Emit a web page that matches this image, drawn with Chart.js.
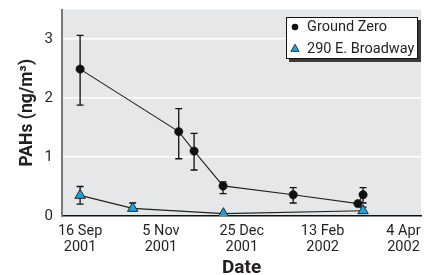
<!DOCTYPE html>
<html lang="en">
<head>
  <meta charset="UTF-8" />
  <title>PAHs at Ground Zero</title>
  <script src="https://cdn.jsdelivr.net/npm/chart.js"></script>
  <style>
    html, body {
      margin: 0;
      padding: 0;
      background: #ffffff;
      overflow: hidden;
    }
    #wrap {
      position: relative;
      width: 428px;
      height: 275px;
    }
  </style>
</head>
<body>
  <div id="wrap">
    <canvas id="pahChart" width="428" height="275"></canvas>
  </div>

  <script>
    // days counted from 16 Sep 2001
    const xTickDays = [0, 50, 100, 150, 200];
    const xTickLabels = [['16 Sep', '2001'], ['5 Nov', '2001'], ['25 Dec', '2001'], ['13 Feb', '2002'], ['4 Apr', '2002']];
    const yTicks = [0, 1, 2, 3];

    const gzDays = [0, 61, 70.5, 88.4, 131.8, 171.8, 175];
    const gzValues = [2.49, 1.43, 1.10, 0.51, 0.36, 0.21, 0.36];
    const gzLow = [1.88, 0.97, 0.78, 0.38, 0.22, null, 0.22];
    const gzHigh = [3.06, 1.82, 1.40, 0.58, 0.48, null, 0.48];

    const bwDays = [0, 32.5, 88.6, 175];
    const bwValues = [0.35, 0.13, 0.04, 0.09];
    const bwLow = [0.20, 0.09, null, 0.05];
    const bwHigh = [0.50, 0.22, null, 0.15];

    const FONT = 'Roboto, "Liberation Sans", Arial, sans-serif';

    function toPoints(days, vals, low, high) {
      return days.map((d, i) => ({ x: d, y: vals[i], lo: low[i], hi: high[i] }));
    }

    const plotBg = {
      id: 'plotBg',
      beforeDraw(chart) {
        const { ctx, chartArea: a } = chart;
        ctx.save();
        ctx.fillStyle = '#e6e7e8';
        ctx.fillRect(a.left, a.top, a.right - a.left, a.bottom - a.top);
        ctx.restore();
      }
    };

    const errorBars = {
      id: 'errorBars',
      beforeDatasetsDraw(chart) {
        const { ctx } = chart;
        const xs = chart.scales.x, ys = chart.scales.y;
        ctx.save();
        ctx.strokeStyle = '#111';
        ctx.lineWidth = 1.3;
        chart.data.datasets.forEach(ds => {
          ds.data.forEach(p => {
            if (p.lo == null) return;
            const x = xs.getPixelForValue(p.x);
            const y1 = ys.getPixelForValue(p.lo);
            const y2 = ys.getPixelForValue(p.hi);
            ctx.beginPath();
            ctx.moveTo(x, y1); ctx.lineTo(x, y2);
            ctx.moveTo(x - 3.5, y1); ctx.lineTo(x + 3.5, y1);
            ctx.moveTo(x - 3.5, y2); ctx.lineTo(x + 3.5, y2);
            ctx.stroke();
          });
        });
        ctx.restore();
      }
    };

    const boxLegend = {
      id: 'boxLegend',
      afterDraw(chart) {
        const { ctx } = chart;
        const bx = 286, by = 17, bw = 132, bh = 42;
        ctx.save();
        ctx.fillStyle = '#3a3a3a';
        ctx.fillRect(bx + 3, by + 3, bw, bh);
        ctx.fillStyle = '#fff';
        ctx.fillRect(bx, by, bw, bh);
        ctx.strokeStyle = '#111';
        ctx.lineWidth = 1;
        ctx.strokeRect(bx + 0.5, by + 0.5, bw - 1, bh - 1);
        ctx.font = '14.5px ' + FONT;
        ctx.textBaseline = 'middle';
        chart.data.datasets.forEach((ds, i) => {
          const cy = by + 10 + i * 22;
          const mx = bx + 9;
          ctx.beginPath();
          if (ds.pointStyle === 'triangle') {
            const r = 4.8;
            ctx.moveTo(mx, cy - r);
            ctx.lineTo(mx + r * 0.866, cy + r / 2);
            ctx.lineTo(mx - r * 0.866, cy + r / 2);
            ctx.closePath();
            ctx.fillStyle = ds.pointBackgroundColor;
            ctx.fill();
            ctx.strokeStyle = ds.pointBorderColor;
            ctx.lineWidth = 0.8;
            ctx.stroke();
          } else {
            ctx.arc(mx, cy, 3.3, 0, Math.PI * 2);
            ctx.fillStyle = ds.pointBackgroundColor;
            ctx.fill();
          }
          ctx.fillStyle = '#231f20';
          ctx.fillText(ds.label, bx + 21, cy);
        });
        ctx.restore();
      }
    };

    new Chart(document.getElementById('pahChart'), {
      type: 'scatter',
      data: {
        datasets: [
          {
            label: 'Ground Zero',
            data: toPoints(gzDays, gzValues, gzLow, gzHigh),
            showLine: true,
            borderColor: '#222',
            borderWidth: 1.1,
            pointStyle: 'circle',
            pointRadius: 4.2,
            pointBackgroundColor: '#111',
            pointBorderColor: '#111',
            pointBorderWidth: 0.5
          },
          {
            label: '290 E. Broadway',
            data: toPoints(bwDays, bwValues, bwLow, bwHigh),
            showLine: true,
            borderColor: '#222',
            borderWidth: 1.1,
            pointStyle: 'triangle',
            pointRadius: 6,
            pointBackgroundColor: '#1ba2e0',
            pointBorderColor: '#1a1a1a',
            pointBorderWidth: 0.9
          }
        ]
      },
      options: {
        responsive: false,
        animation: false,
        layout: { padding: { top: 9.5, left: 0, right: 0, bottom: 0 } },
        plugins: {
          legend: { display: false },
          tooltip: { enabled: false }
        },
        scales: {
          x: {
            type: 'linear',
            min: -11.2,
            max: 210.9,
            afterBuildTicks(scale) {
              scale.ticks = xTickDays.map(v => ({ value: v }));
            },
            afterFit(scale) {
              scale.height = 59;
              scale.paddingLeft = 0;
              scale.paddingRight = 0;
            },
            grid: { display: false, drawTicks: false },
            border: { display: true, color: '#111', width: 1.5 },
            ticks: {
              padding: 7,
              maxRotation: 0,
              autoSkip: false,
              color: '#231f20',
              font: { family: FONT, size: 14.5, lineHeight: 1.1 },
              callback: (v) => xTickLabels[xTickDays.indexOf(v)]
            },
            title: {
              display: true,
              text: 'Date',
              color: '#231f20',
              padding: 0,
              font: { family: FONT, size: 19, weight: 'bold', lineHeight: 0.75 }
            }
          },
          y: {
            min: 0,
            max: 3.5,
            afterBuildTicks(scale) {
              scale.ticks = yTicks.map(v => ({ value: v }));
            },
            afterFit(scale) {
              scale.width = 62;
              scale.paddingTop = 0;
              scale.paddingBottom = 0;
            },
            grid: {
              drawTicks: false,
              lineWidth: 1.5,
              color: (ctx) => (ctx.tick && ctx.tick.value === 0) ? 'rgba(0,0,0,0)' : '#ffffff'
            },
            border: { display: true, color: '#7a7a7a', width: 2 },
            ticks: {
              padding: 9,
              color: '#231f20',
              font: { family: FONT, size: 15 }
            },
            title: {
              display: true,
              text: 'PAHs (ng/m³)',
              color: '#231f20',
              padding: { top: 19, bottom: 0 },
              font: { family: FONT, size: 17.5, weight: 'bold', lineHeight: 1 }
            }
          }
        }
      },
      plugins: [plotBg, errorBars, boxLegend]
    });
  </script>
</body>
</html>
